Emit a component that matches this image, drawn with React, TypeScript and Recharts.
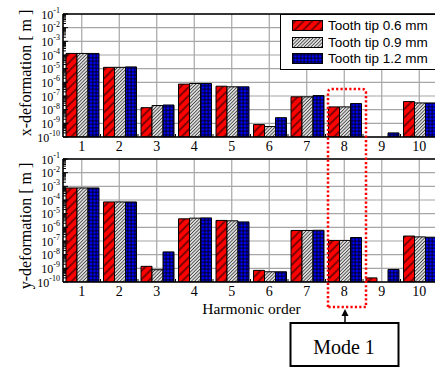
import { BarChart, Bar, XAxis, YAxis, CartesianGrid, ReferenceLine, Legend } from "recharts";

// harmonic orders on the category axis
const HARMONICS = ["1", "2", "3", "4", "5", "6", "7", "8", "9", "10"];

// x-deformation [m] per tooth tip size
const X_TIP06 = [1.3e-4, 1.25e-5, 1.4e-8, 7.4e-7, 5.2e-7, 8.1e-10, 8.7e-8, 1.6e-8, null, 3.9e-8];
const X_TIP09 = [1.3e-4, 1.25e-5, 2.0e-8, 8.2e-7, 4.7e-7, 5.8e-10, 8.7e-8, 1.6e-8, null, 3.1e-8];
const X_TIP12 = [1.3e-4, 1.35e-5, 2.2e-8, 8.2e-7, 4.7e-7, 2.6e-9, 1.07e-7, 2.8e-8, 2.0e-10, 3.1e-8];

// y-deformation [m] per tooth tip size
const Y_TIP06 = [7.6e-4, 7.2e-5, 1.4e-9, 4.2e-6, 3.2e-6, 7.1e-10, 5.9e-7, 1.1e-7, 2.0e-10, 2.3e-7];
const Y_TIP09 = [7.6e-4, 7.2e-5, 7.9e-10, 4.7e-6, 3.0e-6, 5.6e-10, 5.9e-7, 1.1e-7, null, 2.0e-7];
const Y_TIP12 = [7.6e-4, 7.2e-5, 1.6e-8, 4.9e-6, 2.5e-6, 5.6e-10, 6.1e-7, 1.8e-7, 8.3e-10, 1.9e-7];

const SERIES_NAMES = ["Tooth tip 0.6 mm", "Tooth tip 0.9 mm", "Tooth tip 1.2 mm"];

// log axis: labelled decades plus unlabelled minor ticks
const DECADE_EXPONENTS = [-1, -2, -3, -4, -5, -6, -7, -8, -9, -10];
const MINOR_MANTISSAS = [2, 3, 4, 5, 6, 7, 8, 9];

const DECADES = DECADE_EXPONENTS.map((e) => Math.pow(10, e));
const Y_TICKS = DECADE_EXPONENTS.flatMap((e) => [
  Math.pow(10, e),
  ...MINOR_MANTISSAS.map((m) => m * Math.pow(10, e)).filter((v) => v < 0.1),
]);

const xRows = HARMONICS.map((order, i) => ({ order, tip06: X_TIP06[i], tip09: X_TIP09[i], tip12: X_TIP12[i] }));
const yRows = HARMONICS.map((order, i) => ({ order, tip06: Y_TIP06[i], tip09: Y_TIP09[i], tip12: Y_TIP12[i] }));

const SERIF = '"Liberation Serif", "Times New Roman", serif';
const SANS = '"Liberation Sans", Arial, sans-serif';

const CHART_W = 445;
const AXIS_W = 63;
const RIGHT = 7;
const BAND = (CHART_W - AXIS_W - RIGHT) / HARMONICS.length;

function LogTick({ x, y, payload }: any) {
  const v = payload.value;
  const exp = Math.round(Math.log10(v));
  const major = Math.abs(v / Math.pow(10, exp) - 1) < 1e-6;
  return (
    <g>
      <line x1={x} x2={x + (major ? 5 : 3)} y1={y} y2={y} stroke="#000" strokeWidth={1} />
      {major && (
        <text x={x - 3} y={y + 4.5} textAnchor="end" fontFamily={SERIF} fontSize={12} fill="#000">
          10
          <tspan dy={-5.5} fontSize={8}>
            {exp}
          </tspan>
        </text>
      )}
    </g>
  );
}

function OrderTick({ x, y, payload }: any) {
  return (
    <g>
      <line x1={x + BAND / 2} x2={x + BAND / 2} y1={y} y2={y - 3} stroke="#000" strokeWidth={1} />
      <text x={x} y={y + 14} textAnchor="middle" fontFamily={SERIF} fontSize={14} fill="#000">
        {payload.value}
      </text>
    </g>
  );
}

function LegendBox({ payload }: any) {
  return (
    <div
      style={{
        border: "1px solid #000",
        background: "#fff",
        width: 170,
        height: 56,
        boxSizing: "border-box",
        position: "relative",
      }}
    >
      {(payload || []).map((entry: any, i: number) => (
        <div
          key={entry.value}
          style={{ position: "absolute", left: 11, top: 5 + i * 16.7, display: "flex", alignItems: "center", height: 11 }}
        >
          <svg width={31} height={11} style={{ display: "block" }}>
            <rect x={0.5} y={0.5} width={30} height={10} fill={entry.color} stroke="#000" strokeWidth={1} />
          </svg>
          <span style={{ marginLeft: 5, fontFamily: SANS, fontSize: 13.5, color: "#000", whiteSpace: "nowrap" }}>
            {entry.value}
          </span>
        </div>
      ))}
    </div>
  );
}

function Panel({ data, title, titleDy, height, xAxisHeight, showLegend, xTitle }: any) {
  return (
    <BarChart
      width={CHART_W}
      height={height}
      data={data}
      margin={{ top: 14, right: RIGHT, bottom: 0, left: 0 }}
      barCategoryGap={3}
      barGap={0}
    >
      <CartesianGrid horizontalValues={DECADES} stroke="#a6a6a6" strokeWidth={1.2} />
      <XAxis
        dataKey="order"
        interval={0}
        height={xAxisHeight}
        tickSize={0}
        tickMargin={0}
        tickLine={false}
        tick={<OrderTick />}
        axisLine={{ stroke: "#000", strokeWidth: 1.5 }}
        label={
          xTitle
            ? {
                content: ({ viewBox }: any) => (
                  <text
                    x={viewBox.x + viewBox.width / 2 + 1}
                    y={viewBox.y + 32}
                    textAnchor="middle"
                    fontFamily={SERIF}
                    fontSize={15.5}
                    fill="#000"
                  >
                    {xTitle}
                  </text>
                ),
              }
            : undefined
        }
      />
      <YAxis
        type="number"
        scale="log"
        domain={[1e-10, 0.1]}
        allowDataOverflow
        ticks={Y_TICKS}
        interval={0}
        width={AXIS_W}
        tickSize={0}
        tickMargin={0}
        tickLine={false}
        tick={<LogTick />}
        axisLine={{ stroke: "#000", strokeWidth: 1.5 }}
        label={{
          content: ({ viewBox }: any) => {
            const cy = viewBox.y + viewBox.height / 2 + titleDy;
            return (
              <text
                x={31}
                y={cy}
                transform={`rotate(-90, 31, ${cy})`}
                textAnchor="middle"
                fontFamily={SERIF}
                fontSize={16}
                fill="#000"
              >
                {title}
              </text>
            );
          },
        }}
      />
      <ReferenceLine y={0.1} stroke="#000" strokeWidth={1.5} />
      <Bar dataKey="tip06" name={SERIES_NAMES[0]} fill="url(#hatchRed)" stroke="#000" strokeWidth={1} isAnimationActive={false} />
      <Bar dataKey="tip09" name={SERIES_NAMES[1]} fill="url(#hatchGray)" stroke="#000" strokeWidth={1} isAnimationActive={false} />
      <Bar dataKey="tip12" name={SERIES_NAMES[2]} fill="url(#gridBlue)" stroke="#000" strokeWidth={1} isAnimationActive={false} />
      {showLegend && (
        <Legend
          layout="vertical"
          align="center"
          verticalAlign="middle"
          content={<LegendBox />}
          wrapperStyle={{ left: 280, top: 14, width: 170 }}
        />
      )}
    </BarChart>
  );
}

export default function App() {
  return (
    <div style={{ position: "absolute", left: 0, top: 0, width: 435, height: 368, overflow: "hidden", background: "#fff" }}>
      {/* hatch fills shared by bars and legend swatches; strokes sit mid-tile so they are not clipped */}
      <svg width={0} height={0} style={{ position: "absolute" }}>
        <defs>
          <pattern id="hatchRed" width={6} height={6} patternUnits="userSpaceOnUse" patternTransform="rotate(45)">
            <rect width={6} height={6} fill="#ff0000" />
            <line x1={3} y1={0} x2={3} y2={6} stroke="#000" strokeWidth={1} />
          </pattern>
          <pattern id="hatchGray" width={2.4} height={2.4} patternUnits="userSpaceOnUse" patternTransform="rotate(45)">
            <rect width={2.4} height={2.4} fill="#fff" />
            <line x1={1.2} y1={0} x2={1.2} y2={2.4} stroke="#444" strokeWidth={1.1} />
          </pattern>
          <pattern id="gridBlue" width={3.5} height={3.5} patternUnits="userSpaceOnUse">
            <rect width={3.5} height={3.5} fill="#0000ff" />
            <path d="M0 1.75 H3.5 M1.75 0 V3.5" stroke="#000" strokeWidth={0.9} />
          </pattern>
        </defs>
      </svg>

      <div style={{ position: "absolute", left: 0, top: 0 }}>
        <Panel data={xRows} title="x-deformation [ m ]" titleDy={-2.5} height={157} xAxisHeight={20} showLegend />
      </div>
      <div style={{ position: "absolute", left: 0, top: 145 }}>
        <Panel data={yRows} title="y-deformation [ m ]" titleDy={5.5} height={175} xAxisHeight={38} xTitle="Harmonic order" />
      </div>

      {/* callout around harmonic 8 */}
      <svg width={435} height={368} style={{ position: "absolute", left: 0, top: 0, pointerEvents: "none" }}>
        <path
          d="M328 307 V93 Q328 89 332 89 H362 Q366 89 366 93 V307 Z"
          fill="none"
          stroke="#ff0000"
          strokeWidth={2.5}
          strokeDasharray="2.2 2.2"
        />
        <line x1={345} y1={323} x2={345} y2={314} stroke="#000" strokeWidth={1.5} />
        <polygon points="345,309 341.5,316 348.5,316" fill="#000" />
        <rect x={290.5} y={323} width={108} height={43} fill="#fff" stroke="#000" strokeWidth={2} />
        <text x={344} y={354} textAnchor="middle" fontFamily={SERIF} fontSize={20} fill="#000">
          Mode 1
        </text>
      </svg>
    </div>
  );
}
